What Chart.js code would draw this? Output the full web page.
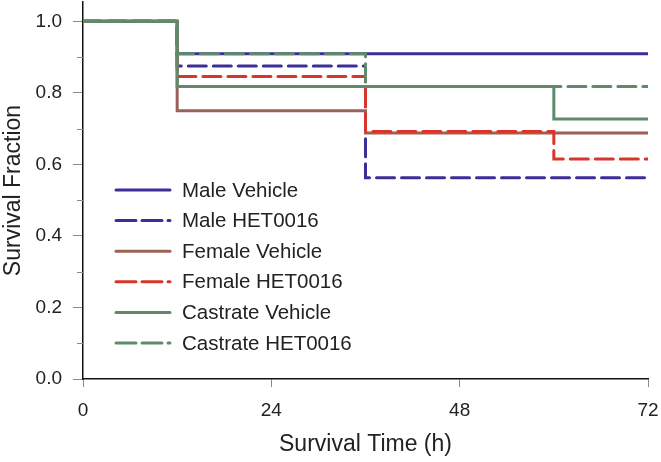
<!DOCTYPE html>
<html>
<head>
<meta charset="utf-8">
<script src="https://cdn.jsdelivr.net/npm/chart.js@4/dist/chart.umd.min.js"></script>
<style>
  html, body { margin: 0; padding: 0; background: #fff; }
  #wrap { width: 661px; height: 462px; position: relative; }
</style>
</head>
<body>
<div id="wrap"><canvas id="km-chart"></canvas></div>
<script>
// survival times (h) and survival fractions
var times = [0, 12, 36, 60, 72];
var maleVehicle = [1.0, 0.909, 0.909, 0.909, 0.909];
var maleHET = [1.0, 0.875, 0.5625, 0.5625, 0.5625];
var femaleVehicle = [1.0, 0.75, 0.6875, 0.6875, 0.6875];
var femaleHET = [1.0, 0.846, 0.692, 0.615, 0.615];
var castrateVehicle = [1.0, 0.818, 0.818, 0.727, 0.727];
var castrateHET = [1.0, 0.909, 0.818, 0.818, 0.818];

var seriesNames = ['Male Vehicle', 'Male HET0016', 'Female Vehicle', 'Female HET0016', 'Castrate Vehicle', 'Castrate HET0016'];
var xTicks = [0, 24, 48, 72];
var yTicks = [0, 0.1, 0.2, 0.3, 0.4, 0.5, 0.6, 0.7, 0.8, 0.9, 1.0];

var blue = '#3a2f98';
var brown = '#9a6156';
var red = '#d8352b';
var green = '#5f8a6c';
var dash = [18, 7];
var fontFam = '"Liberation Sans", Arial, sans-serif';

function pts(vals) {
  var out = [];
  for (var i = 0; i < times.length; i++) {
    out.push({x: times[i], y: vals[i]});
  }
  return out;
}

function ds(label, vals, color, dashed, order) {
  return {
    label: label,
    data: pts(vals),
    stepped: 'before',
    borderColor: color,
    borderWidth: 3,
    borderDash: dashed ? dash : [],
    borderCapStyle: 'round',
    borderJoinStyle: 'miter',
    pointRadius: 0,
    fill: false,
    order: order
  };
}

// legend drawn inside the plot, lower left
var insideLegend = {
  id: 'insideLegend',
  afterDatasetsDraw: function (chart) {
    var ctx = chart.ctx;
    var area = chart.chartArea;
    var x0 = area.left + 33, x1 = x0 + 54, tx = x0 + 66;
    var y0 = 190, step = 30.6;
    ctx.save();
    ctx.font = '20.5px ' + fontFam;
    ctx.textBaseline = 'middle';
    ctx.fillStyle = '#222';
    chart.data.datasets.forEach(function (d, i) {
      var y = y0 + i * step;
      ctx.beginPath();
      ctx.strokeStyle = d.borderColor;
      ctx.lineWidth = 3;
      ctx.lineCap = 'round';
      ctx.setLineDash(d.borderDash.length ? [20, 6] : []);
      ctx.moveTo(x0, y);
      ctx.lineTo(x1, y);
      ctx.stroke();
      ctx.setLineDash([]);
      ctx.fillText(d.label, tx, y + 1);
    });
    ctx.restore();
  }
};

// short minor ticks on the y axis
var minorTicks = {
  id: 'minorTicks',
  afterDraw: function (chart) {
    var ctx = chart.ctx;
    var ys = chart.scales.y;
    var left = chart.chartArea.left;
    ctx.save();
    ctx.strokeStyle = '#8a8a8a';
    ctx.lineWidth = 1;
    yTicks.forEach(function (v, i) {
      if (i % 2 === 1) {
        var py = Math.round(ys.getPixelForValue(v)) + 0.5;
        ctx.beginPath();
        ctx.moveTo(left - 6, py);
        ctx.lineTo(left, py);
        ctx.stroke();
      }
    });
    ctx.restore();
  }
};

var ctx = document.getElementById('km-chart');
var kmChart = new Chart(ctx, {
  type: 'line',
  data: {
    datasets: [
      ds(seriesNames[0], maleVehicle, blue, false, 6),
      ds(seriesNames[1], maleHET, blue, true, 5),
      ds(seriesNames[2], femaleVehicle, brown, false, 4),
      ds(seriesNames[3], femaleHET, red, true, 3),
      ds(seriesNames[4], castrateVehicle, green, false, 2),
      ds(seriesNames[5], castrateHET, green, true, 1)
    ]
  },
  options: {
    responsive: true,
    maintainAspectRatio: false,
    animation: false,
    layout: { padding: { top: 2, right: 13, left: 0, bottom: 0 } },
    plugins: {
      legend: { display: false },
      tooltip: { enabled: false }
    },
    scales: {
      x: {
        type: 'linear',
        min: 0,
        max: 72,
        afterBuildTicks: function (scale) {
          scale.ticks = xTicks.map(function (v) { return {value: v}; });
        },
        afterFit: function (scale) {
          scale.height = 83;
          scale.paddingLeft = 0;
          scale.paddingRight = 0;
        },
        grid: { drawOnChartArea: false, drawTicks: true, tickLength: 8, tickColor: '#8a8a8a', tickWidth: 1 },
        border: { display: true, color: '#111', width: 1.5 },
        ticks: {
          padding: 12,
          color: '#222',
          font: { family: fontFam, size: 19 },
          maxRotation: 0
        },
        title: {
          display: true,
          text: 'Survival Time (h)',
          color: '#222',
          font: { family: fontFam, size: 23 },
          padding: { top: 0, bottom: 4 }
        }
      },
      y: {
        type: 'linear',
        min: 0,
        max: 1.054,
        afterBuildTicks: function (scale) {
          scale.ticks = yTicks.map(function (v) { return {value: v}; });
        },
        afterFit: function (scale) {
          scale.width = 83;
          scale.paddingTop = 0;
          scale.paddingBottom = 0;
        },
        grid: {
          drawOnChartArea: false,
          drawTicks: true,
          tickLength: 10,
          tickWidth: 1,
          tickColor: function (c) {
            var i = yTicks.indexOf(c.tick ? c.tick.value : -1);
            return (i % 2 === 1) ? 'rgba(0,0,0,0)' : '#8a8a8a';
          }
        },
        border: { display: true, color: '#111', width: 1.5 },
        ticks: {
          padding: 11,
          color: '#222',
          font: { family: fontFam, size: 19 },
          callback: function (v, i) {
            return (i % 2 === 0) ? v.toFixed(1) : '';
          }
        },
        title: {
          display: true,
          text: 'Survival Fraction',
          color: '#222',
          font: { family: fontFam, size: 23 },
          padding: { top: 0, bottom: 0 }
        }
      }
    }
  },
  plugins: [insideLegend, minorTicks]
});
</script>
</body>
</html>
